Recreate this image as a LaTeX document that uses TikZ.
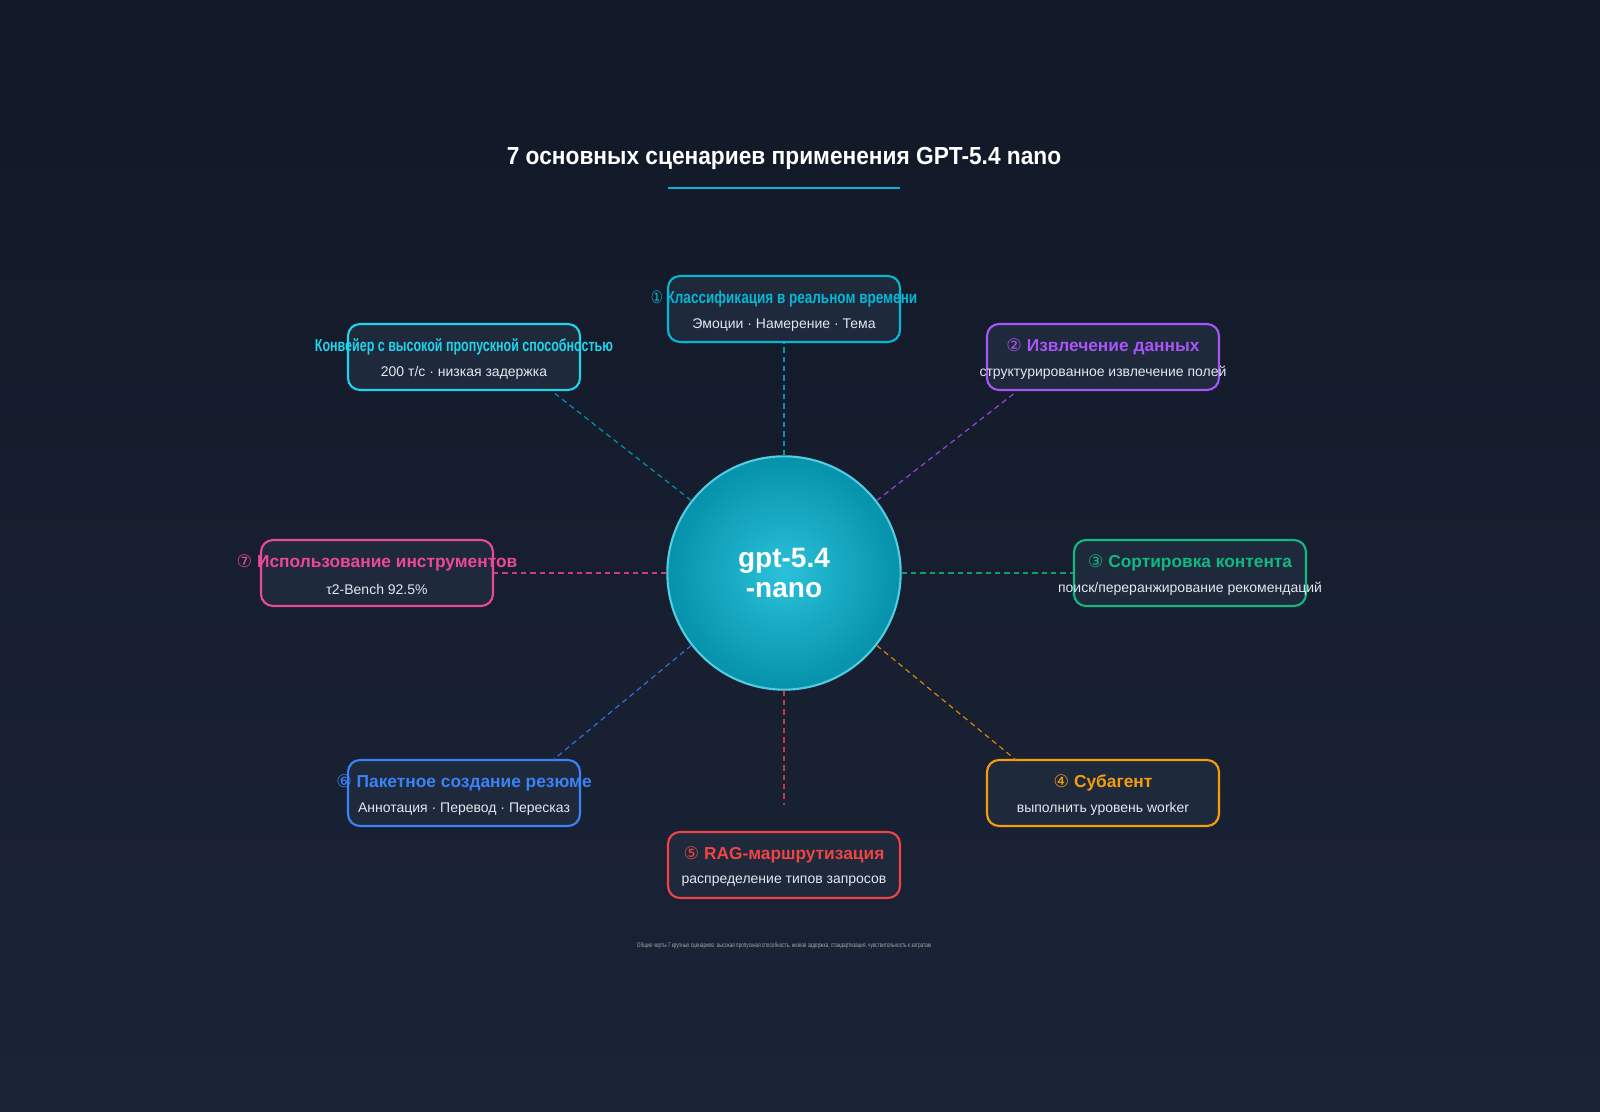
\documentclass[tikz,border=0pt]{standalone}
\usepackage{fontspec}
\usepackage{graphicx}
\setmainfont{Liberation Sans}
\newfontfamily\symfont{DejaVu Sans}
\usetikzlibrary{positioning}
\definecolor{bgtop}{HTML}{111827}
\definecolor{bgbot}{HTML}{1B2437}
\definecolor{boxfill}{HTML}{1E293B}
\definecolor{subtxt}{HTML}{E2E8F0}
\definecolor{ccyan}{HTML}{06B6D4}
\definecolor{clight}{HTML}{22D3EE}
\definecolor{cpurple}{HTML}{A855F7}
\definecolor{cgreen}{HTML}{10B981}
\definecolor{cpink}{HTML}{EC4899}
\definecolor{corange}{HTML}{F59E0B}
\definecolor{cblue}{HTML}{3B82F6}
\definecolor{cred}{HTML}{EF4444}
\tikzset{
  usecase/.style={draw=#1, line width=1.6pt, fill=boxfill, rounded corners=9pt,
    minimum width=174pt, minimum height=49.5pt},
  headline/.style={text=#1, font=\bfseries\fontsize{13}{15}\selectfont},
  subline/.style={text=subtxt, font=\fontsize{10.5}{12}\selectfont},
  link/.style={draw=#1, dashed, line width=0.9pt, dash pattern=on 4pt off 3pt}
}
\newcommand{\cnum}[1]{{\symfont\mdseries #1}}
\begin{document}
\begin{tikzpicture}[x=0.75pt, y=-0.75pt]
\shade[top color=bgtop, bottom color=bgbot] (0,0) rectangle (1600,1112);
\useasboundingbox (0,0) rectangle (1600,1112);
% title
\node[text=white, font=\bfseries\fontsize{18.5}{22}\selectfont] (title) at (784,158)
  {\scalebox{0.92}[1]{7 основных сценариев применения GPT-5.4 nano}};
\draw[ccyan, line width=2.2pt] (668,188) -- (900,188);
% hub
\node[circle, minimum size=175pt, draw=ccyan!70!white, line width=1.6pt,
  inner color=ccyan!85!white, outer color=ccyan!80!black] (hub) at (784,573) {};
\node[text=white, font=\bfseries\fontsize{21}{23}\selectfont, align=center] at (hub) {gpt-5.4\\-nano};
% use cases
\node[usecase=ccyan] (uc1) at (784,309) {};
\node[usecase=clight] (pipe) at (464,357) {};
\node[usecase=cpurple] (uc2) at (1103,357) {};
\node[usecase=cgreen] (uc3) at (1190,573) {};
\node[usecase=cpink] (uc7) at (377,573) {};
\node[usecase=corange] (uc4) at (1103,793) {};
\node[usecase=cblue] (uc6) at (464,793) {};
\node[usecase=cred] (uc5) at (784,865) {};
% labels
\node[headline=ccyan] at (784,299) {\scalebox{0.78}[1]{\cnum{①} Классификация в реальном времени}};
\node[subline] at (784,325) {Эмоции · Намерение · Тема};
\node[headline=clight] at (464,347) {\scalebox{0.72}[1]{Конвейер с высокой пропускной способностью}};
\node[subline] at (464,373) {200 т/с · низкая задержка};
\node[headline=cpurple] at (1103,347) {\cnum{②} Извлечение данных};
\node[subline] at (1103,373) {структурированное извлечение полей};
\node[headline=cgreen] at (1190,563) {\cnum{③} Сортировка контента};
\node[subline] at (1190,589) {поиск/переранжирование рекомендаций};
\node[headline=cpink] at (377,563) {\cnum{⑦} Использование инструментов};
\node[subline] at (377,589) {τ2-Bench 92.5\%};
\node[headline=corange] at (1103,783) {\cnum{④} Субагент};
\node[subline] at (1103,809) {выполнить уровень worker};
\node[headline=cblue] at (464,783) {\cnum{⑥} Пакетное создание резюме};
\node[subline] at (464,809) {Аннотация · Перевод · Пересказ};
\node[headline=cred] at (784,855) {\cnum{⑤} RAG-маршрутизация};
\node[subline] at (784,881) {распределение типов запросов};
% connectors
\coordinate (ragend) at (784,805);
\draw[link=ccyan!80!black] (hub.north) -- (uc1.south);
\draw[link=ccyan!80!black] (hub.142) -- (553,392);
\draw[link=cpurple!85!black] (hub.38) -- (1016,392);
\draw[link=cgreen!85!black] (hub.east) -- (uc3.west);
\draw[link=cpink!85!black] (hub.west) -- (uc7.east);
\draw[link=corange!85!black] (hub.-38) -- (1016,760);
\draw[link=cblue!85!black] (hub.-142) -- (553,760);
\draw[link=cred!85!black] (hub.south) -- (ragend);
% footer
\node[text=gray!70, font=\fontsize{5}{6}\selectfont] (note) at (784,946)
  {\scalebox{0.7}[1]{Общие черты 7 крупных сценариев: высокая пропускная способность, низкая задержка, стандартизация, чувствительность к затратам}};
\end{tikzpicture}
\end{document}
